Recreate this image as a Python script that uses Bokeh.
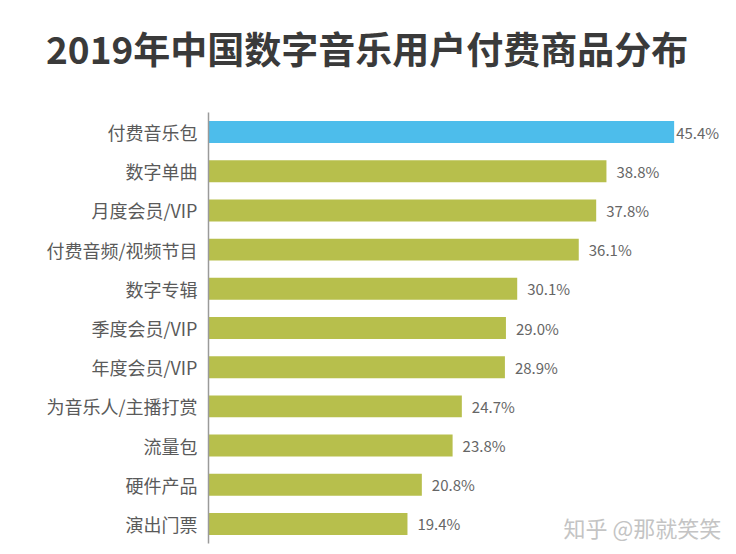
from bokeh.plotting import figure
from bokeh.models import ColumnDataSource, FactorRange, Range1d, Label, Div
from bokeh.layouts import column
from bokeh.core.properties import value
from bokeh.embed import file_html
from bokeh.resources import INLINE

categories = ["付费音乐包", "数字单曲", "月度会员/VIP", "付费音频/视频节目", "数字专辑",
              "季度会员/VIP", "年度会员/VIP", "为音乐人/主播打赏", "流量包", "硬件产品", "演出门票"]
values = [45.4, 38.8, 37.8, 36.1, 30.1, 29.0, 28.9, 24.7, 23.8, 20.8, 19.4]
title_text = "2019年中国数字音乐用户付费商品分布"
watermark = "知乎 @那就笑笑"

FONT = "Noto Sans CJK SC"
BLUE = "#4DBDEB"
GREEN = "#B7BF4C"

vmax = max(values)
colors = [BLUE if v == vmax else GREEN for v in values]
labels = ["%.1f%%" % v for v in values]
offsets = [2 if v == vmax else 10 for v in values]

src = ColumnDataSource(dict(cat=categories, val=values, color=colors, label=labels, off=offsets))

title = Div(text=title_text, width=728, height=102,
            styles={"font-family": "'Noto Sans CJK SC', sans-serif", "font-size": "37px",
                    "font-weight": "bold", "color": "#3a3a3a", "line-height": "37px",
                    "padding-top": "25px", "padding-left": "41px", "white-space": "nowrap",
                    "box-sizing": "border-box"})

p = figure(width=728, height=434, output_backend="svg", toolbar_location=None,
           x_axis_location=None,
           y_range=FactorRange(factors=categories[::-1], range_padding=0),
           x_range=Range1d(0, 50.7),
           min_border_left=208, min_border_right=0, min_border_top=0, min_border_bottom=3)

p.hbar(y="cat", right="val", left=0, height=0.56, color="color", line_color=None, source=src)
p.text(x="val", y="cat", text="label", x_offset="off", source=src,
       text_font=value(FONT), text_font_size="15px", text_color="#666666",
       text_baseline="middle", text_align="left")

p.outline_line_color = None
p.xgrid.visible = False
p.ygrid.visible = False
p.yaxis.axis_line_color = "#9a9a9a"
p.yaxis.axis_line_width = 1.5
p.yaxis.major_tick_line_color = None
p.yaxis.minor_tick_line_color = None
p.yaxis.major_tick_out = 0
p.yaxis.major_label_standoff = 11
p.yaxis.major_label_text_font = FONT
p.yaxis.major_label_text_font_size = "18px"
p.yaxis.major_label_text_color = "#5a5a5a"

p.add_layout(Label(x=355, y=17, x_units="screen", y_units="screen", text=watermark,
                   text_font=FONT, text_font_size="22px", text_color="#c4c4c4",
                   text_baseline="middle"))

layout = column(title, p, spacing=0)
open("out.html", "w").write(file_html(layout, INLINE))
